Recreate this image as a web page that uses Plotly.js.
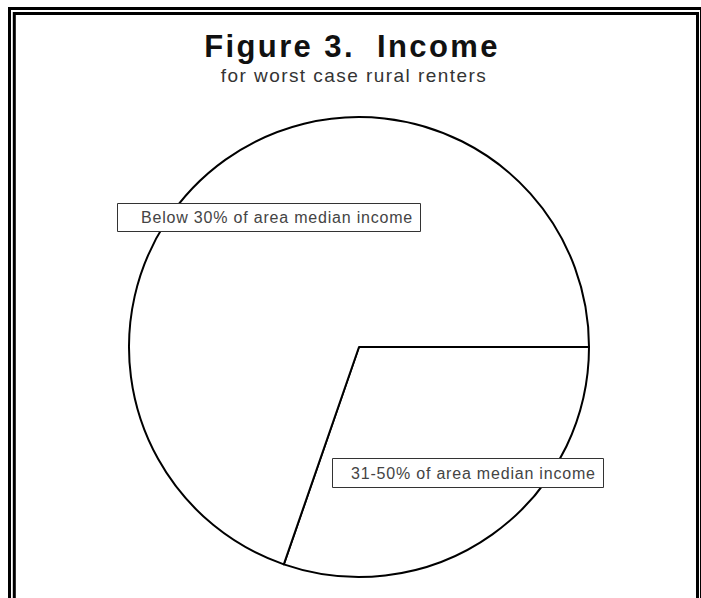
<!DOCTYPE html>
<html>
<head>
<meta charset="utf-8">
<script src="https://cdn.plot.ly/plotly-3.0.1.min.js"></script>
<style>
  html, body { margin: 0; padding: 0; background: #ffffff; }
  #chart { width: 701px; height: 598px; }
  .gtitle { letter-spacing: 2.4px; }
  g.annotation[data-index="0"] text { letter-spacing: 1.45px; }
  g.annotation[data-index="1"] text, g.annotation[data-index="2"] text { letter-spacing: 0.8px; }
</style>
</head>
<body>
<div id="chart"></div>
<script>
// ---- data ----
const titleText = "Figure 3.\u00a0\u00a0Income";
const subtitleText = "for worst case rural renters";
const categories = ["31-50% of area median income", "Below 30% of area median income"];
const shares = [30.3, 69.7];

// ---- layout helpers (pixel -> paper) ----
const W = 701, H = 598;
const px = x => x / W;
const py = y => 1 - y / H;

const cx = 359, cy = 347, r = 230;

const data = [{
  type: "pie",
  labels: categories,
  values: shares,
  sort: false,
  direction: "clockwise",
  rotation: 90,
  textinfo: "none",
  hoverinfo: "none",
  showlegend: false,
  marker: { colors: ["#ffffff", "#ffffff"], line: { color: "#000000", width: 2 } },
  domain: { x: [px(cx - r), px(cx + r)], y: [py(cy + r), py(cy - r)] }
}];

const layout = {
  width: W, height: H,
  margin: { l: 0, r: 0, t: 0, b: 0 },
  paper_bgcolor: "#ffffff",
  plot_bgcolor: "#ffffff",
  title: {
    text: titleText,
    x: px(352), xanchor: "center", xref: "paper",
    y: py(46), yanchor: "middle", yref: "paper",
    font: { family: "Liberation Sans, Arial, sans-serif", size: 31, weight: "bold", color: "#111111" }
  },
  shapes: [
    { type: "rect", xref: "paper", yref: "paper", x0: px(9.5), x1: px(701.5), y0: py(8.5), y1: py(640), line: { color: "#000", width: 3 }, layer: "above" },
    { type: "rect", xref: "paper", yref: "paper", x0: px(14.3), x1: px(697.5), y0: py(13.5), y1: py(640), line: { color: "#000", width: 3 }, layer: "above" },
    { type: "rect", xref: "paper", yref: "paper", x0: px(117.5), x1: px(420.5), y0: py(203.5), y1: py(231.5), fillcolor: "#ffffff", line: { color: "#333333", width: 1 }, layer: "above" },
    { type: "rect", xref: "paper", yref: "paper", x0: px(332.5), x1: px(603.5), y0: py(458.5), y1: py(487.5), fillcolor: "#ffffff", line: { color: "#333333", width: 1 }, layer: "above" }
  ],
  annotations: [
    { text: subtitleText, xref: "paper", yref: "paper", x: px(354), y: py(75), xanchor: "center", yanchor: "middle", showarrow: false,
      font: { family: "Liberation Sans, Arial, sans-serif", size: 19, color: "#333333" } },
    { text: categories[1], xref: "paper", yref: "paper", x: px(139), y: py(217.5), xanchor: "left", yanchor: "middle", align: "left", showarrow: false,
      font: { family: "Liberation Sans, Arial, sans-serif", size: 16, color: "#444444" } },
    { text: categories[0], xref: "paper", yref: "paper", x: px(349), y: py(473), xanchor: "left", yanchor: "middle", align: "left", showarrow: false,
      font: { family: "Liberation Sans, Arial, sans-serif", size: 16, color: "#444444" } }
  ]
};

Plotly.newPlot("chart", data, layout, { displayModeBar: false, staticPlot: true });
</script>
</body>
</html>
